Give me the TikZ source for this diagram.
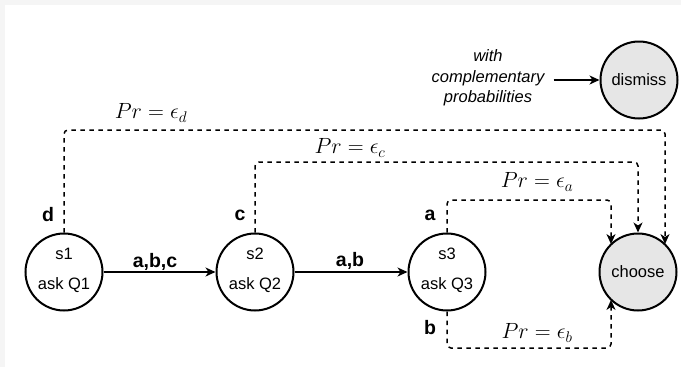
\RequirePackage{fix-cm}
\documentclass[tikz,border=0pt]{standalone}
\usepackage[no-math]{fontspec}
\setmainfont{Liberation Sans}
\usetikzlibrary{arrows.meta}
\definecolor{endfill}{HTML}{E6E6E6}
\definecolor{edgegray}{HTML}{F5F5F5}
\begin{document}
\begin{tikzpicture}[x=1pt,y=-1pt,
  state/.style={circle,draw,line width=2pt,minimum size=77pt,inner sep=0pt,align=center,
    font=\fontsize{16.5}{30}\selectfont,text depth=7pt},
  endstate/.style={circle,draw,line width=2pt,minimum size=77pt,inner sep=0pt,fill=endfill,
    font=\fontsize{16.5}{20}\selectfont},
  comptext/.style={align=center,inner sep=9pt,font=\fontsize{16.5}{20.5}\selectfont\itshape},
  lbl/.style={inner sep=0pt,font=\fontsize{19.5}{23}\selectfont\bfseries},
  prlbl/.style={inner sep=0pt,font=\fontsize{22}{26}\selectfont},
  arr/.style={line width=1.5pt,-{Stealth[length=10pt,width=9pt,inset=3pt]}},
  dsh/.style={arr,dash pattern=on 4.5pt off 4.5pt,rounded corners=4pt}
]
\fill[white] (0,0) rectangle (681,367);
\fill[edgegray] (0,0) rectangle (681,5);
\fill[edgegray] (0,0) rectangle (5,367);
\useasboundingbox (0,0) rectangle (681,367);

% states
\node[state] (s1) at (64,272) {s1\\ask Q1};
\node[state] (s2) at (255,272) {s2\\ask Q2};
\node[state] (s3) at (447,272) {s3\\ask Q3};
\node[endstate] (choose) at (638,272) {choose};
\node[endstate] (dismiss) at (639,80) {dismiss};
\node[comptext] (comp) at (488,78) {with\\complementary\\probabilities};

% solid transitions
\draw[arr] (s1) -- (s2);
\draw[arr] (s2) -- (s3);
\draw[arr] (comp.east |- dismiss) -- (dismiss);

% dashed transitions
\coordinate (dk) at (665,130);
\coordinate (ck) at (638,162);
\coordinate (ak) at (611,200);
\coordinate (bk) at (611,348);
\draw[dsh] (s1.north) |- (dk) -- (dk |- choose.45);
\draw[dsh] (s2.north) |- (ck) -- (choose.north);
\draw[dsh] (s3.north) |- (ak) -- (ak |- choose.135);
\draw[dsh] (s3.south) |- (bk) -- (bk |- choose.225);

% labels
\node[lbl] (labc) at (155,262) {a,b,c};
\node[lbl] (lab) at (350,261) {a,b};
\node[lbl] (ld) at (48,215) {d};
\node[lbl] (lc) at (240,215) {c};
\node[lbl] (la) at (430,215) {a};
\node[lbl] (lb) at (430,328) {b};

\node[prlbl] (pd) at (151,113) {$Pr = \epsilon_d$};
\node[prlbl] (pc) at (350,148) {$Pr = \epsilon_c$};
\node[prlbl] (pa) at (537,182) {$Pr = \epsilon_a$};
\node[prlbl] (pb) at (537,333) {$Pr = \epsilon_b$};
\end{tikzpicture}
\end{document}
